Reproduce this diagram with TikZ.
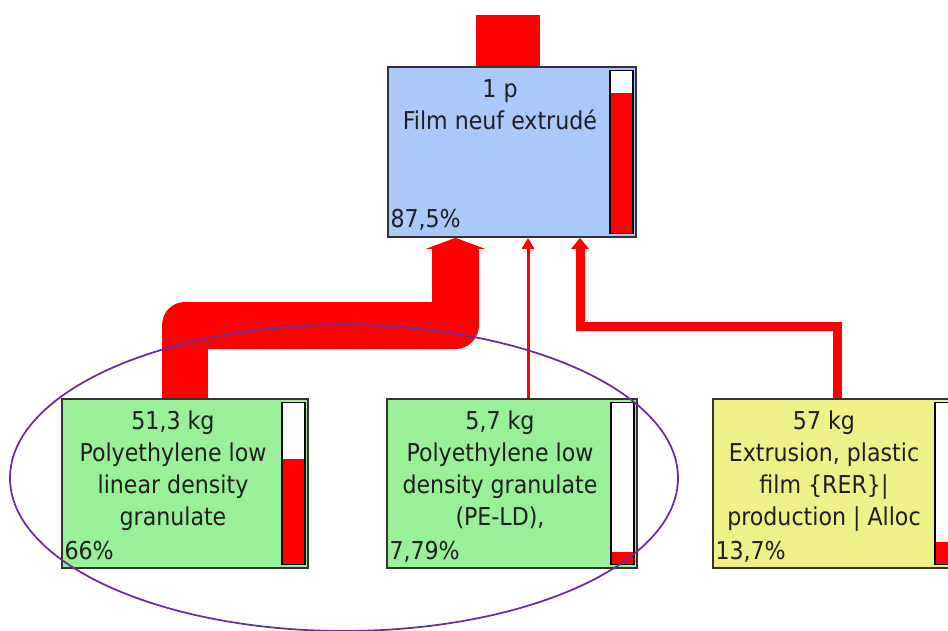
\documentclass[tikz,border=0pt]{standalone}
\usepackage{fontspec}
\setmainfont{DejaVu Sans Condensed}
\usetikzlibrary{arrows.meta, calc, positioning}

\definecolor{procblue}{RGB}{170,200,248}
\definecolor{procgreen}{RGB}{153,240,153}
\definecolor{procyellow}{RGB}{240,240,136}
\definecolor{flowred}{RGB}{255,0,0}
\definecolor{ringpurple}{RGB}{105,45,160}

% score bar at the right side of a process box
\newcommand{\pctbar}[2]{%
	\fill[white] ($(#1.north east)+(-27,-4.5)$) rectangle ($(#1.south east)+(-4,4.5)$);
	\fill[flowred] ($(#1.south east)+(-27,4.5)$) rectangle ($(#1.south east)+(-4,4.5+160*#2)$);
	\draw[line width=0.03cm] ($(#1.north east)+(-27,-4.5)$) rectangle ($(#1.south east)+(-4,4.5)$);}

\begin{document}
\begin{tikzpicture}[x=0.02cm, y=0.02cm,
	proc/.style={draw=black!80, line width=0.035cm, minimum width=4.96cm, minimum height=3.38cm, inner sep=0},
	boxtext/.style={align=center, inner sep=0, text=black!88, font=\fontsize{14}{18.1}\selectfont},
	pct/.style={inner sep=0, text=black!88, font=\fontsize{14}{18.1}\selectfont}]
	\useasboundingbox (0,0) rectangle (948,630);
	\clip (0,0) rectangle (948,630);
	%process boxes
	\node[proc, fill=procblue, minimum height=3.4cm] (film) at (512,478) {};
	\node[proc, fill=procgreen, minimum width=4.92cm] (lldpe) at (185,146.5) {};
	\node[proc, fill=procgreen, minimum width=5cm] (ldpe) at (512,146.5) {};
	\node[proc, fill=procyellow] (extr) at (837,146.5) {};
	%texts (base = last line)
	\node[boxtext, anchor=base] (film-txt) at ($(film.north)+(-12,-63.5)$) {1 p\\Film neuf extrudé};
	\node[boxtext, anchor=base] (lldpe-txt) at ($(lldpe.north)+(-12,-127)$) {51,3 kg\\Polyethylene low\\linear density\\granulate};
	\node[boxtext, anchor=base] (ldpe-txt) at ($(ldpe.north)+(-12,-127)$) {5,7 kg\\Polyethylene low\\density granulate\\(PE-LD),};
	\node[boxtext, anchor=base] (extr-txt) at ($(extr.north)+(-13,-127)$) {57 kg\\Extrusion, plastic\\film \{RER\}|\\production | Alloc};
	\node[pct, anchor=base west] (film-pct) at ($(film.south west)+(3,10)$) {87,5\%};
	\node[pct, anchor=base west] (lldpe-pct) at ($(lldpe.south west)+(3,9)$) {66\%};
	\node[pct, anchor=base west] (ldpe-pct) at ($(ldpe.south west)+(3,9)$) {7,79\%};
	\node[pct, anchor=base west] (extr-pct) at ($(extr.south west)+(3,9)$) {13,7\%};
	%bars
	\pctbar{film}{0.875}
	\pctbar{lldpe}{0.66}
	\pctbar{ldpe}{0.0779}
	\pctbar{extr}{0.137}
	%flows
	\coordinate (out) at (508,615);
	\draw[flowred, line width=1.28cm] ($(film.north)+(-4,0)$) -- (out);
	\draw[flowred, line width=0.94cm, line join=round, -{Triangle[length=0.22cm, width=1.18cm]}] (lldpe.north) -- ++(0,73) -| ($(film.south)+(-56.5,0)$);
	\draw[flowred, line width=0.06cm, -{Triangle[length=0.22cm, width=0.24cm]}] ($(ldpe.north)+(16,0)$) -- ($(film.south)+(16,0)$);
	\draw[flowred, line width=0.18cm, -{Triangle[length=0.22cm, width=0.34cm]}] (extr.north) -- ++(0,72) -| ($(film.south)+(68,0)$);
	%selection ring
	\draw[ringpurple, line width=0.035cm] (344,152) ellipse [x radius=334, y radius=153];
\end{tikzpicture}
\end{document}
